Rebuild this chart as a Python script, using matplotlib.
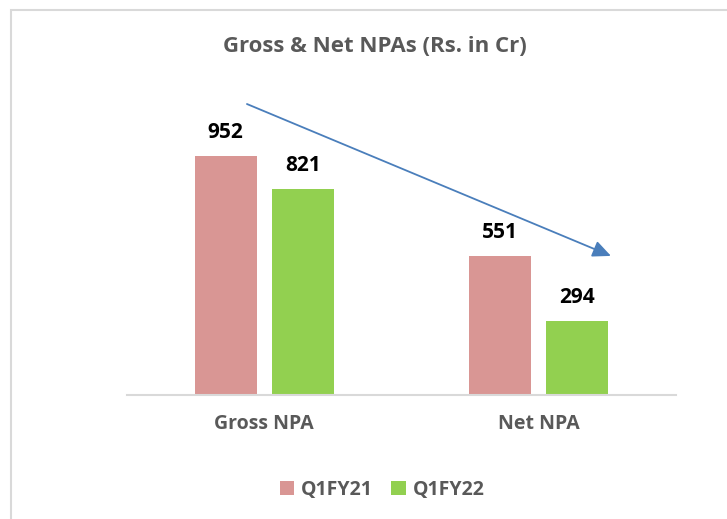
import matplotlib
matplotlib.use('Agg')
import matplotlib.pyplot as plt
from matplotlib.patches import Rectangle
import numpy as np

# data
categories = ['Gross NPA', 'Net NPA']
series_names = ['Q1FY21', 'Q1FY22']
q1fy21 = [952, 551]
q1fy22 = [821, 294]

colors = ['#D99694', '#92D050']
grey = '#595959'

plt.rcParams['font.family'] = ['Open Sans', 'DejaVu Sans']

fig = plt.figure(figsize=(7.27, 5.19), dpi=100)

# light grey chart border (cut off at right and bottom like the screenshot)
fig.patches.append(Rectangle((10.5 / 727, -0.1), 1.2, (519 - 9.5) / 519 + 0.1,
                             transform=fig.transFigure, fill=False,
                             edgecolor='#D9D9D9', linewidth=1.5))

ax = fig.add_axes([127 / 727, (519 - 395) / 519, 549 / 727, 300 / 519])

x = np.arange(len(categories))
w = 0.226
off = 0.141
b1 = ax.bar(x - off, q1fy21, w, color=colors[0], label=series_names[0])
b2 = ax.bar(x + off, q1fy22, w, color=colors[1], label=series_names[1])

for bars, vals in [(b1, q1fy21), (b2, q1fy22)]:
    for r, v in zip(bars, vals):
        ax.annotate(str(v), (r.get_x() + r.get_width() / 2, v),
                    xytext=(0, 13), textcoords='offset pixels',
                    ha='center', va='bottom', fontsize=15, fontweight='bold', color='black')

ax.set_xlim(-0.5, 1.5)
ax.set_ylim(0, 300 / 0.2515)
ax.set_xticks(x)
ax.set_xticklabels(categories, fontsize=14, fontweight='bold', color=grey)
ax.tick_params(axis='x', length=0, pad=14)
ax.set_yticks([])
for s in ['top', 'right', 'left']:
    ax.spines[s].set_visible(False)
ax.spines['bottom'].set_color('#D9D9D9')
ax.spines['bottom'].set_linewidth(1.5)

# trend arrow
ax.annotate('', xy=(1.263, 553), xytext=(-0.063, 1157),
            arrowprops=dict(arrowstyle='-|>,head_length=1.1,head_width=0.5',
                            color='#4A7EBB', lw=1.3, shrinkA=0, shrinkB=0))

fig.text(375 / 727, 1 - 46 / 519, 'Gross & Net NPAs (Rs. in Cr)', ha='center', va='center',
         fontsize=16, fontweight='bold', color=grey)

fig.legend(handles=[b1, b2], loc='center', bbox_to_anchor=(382 / 727, 1 - 490 / 519),
           ncol=2, frameon=False, handlelength=0.75, handleheight=0.75, handletextpad=0.35,
           columnspacing=0.95, prop={'size': 14, 'weight': 'bold'}, labelcolor=grey)

fig.savefig('out.png', dpi=100)
